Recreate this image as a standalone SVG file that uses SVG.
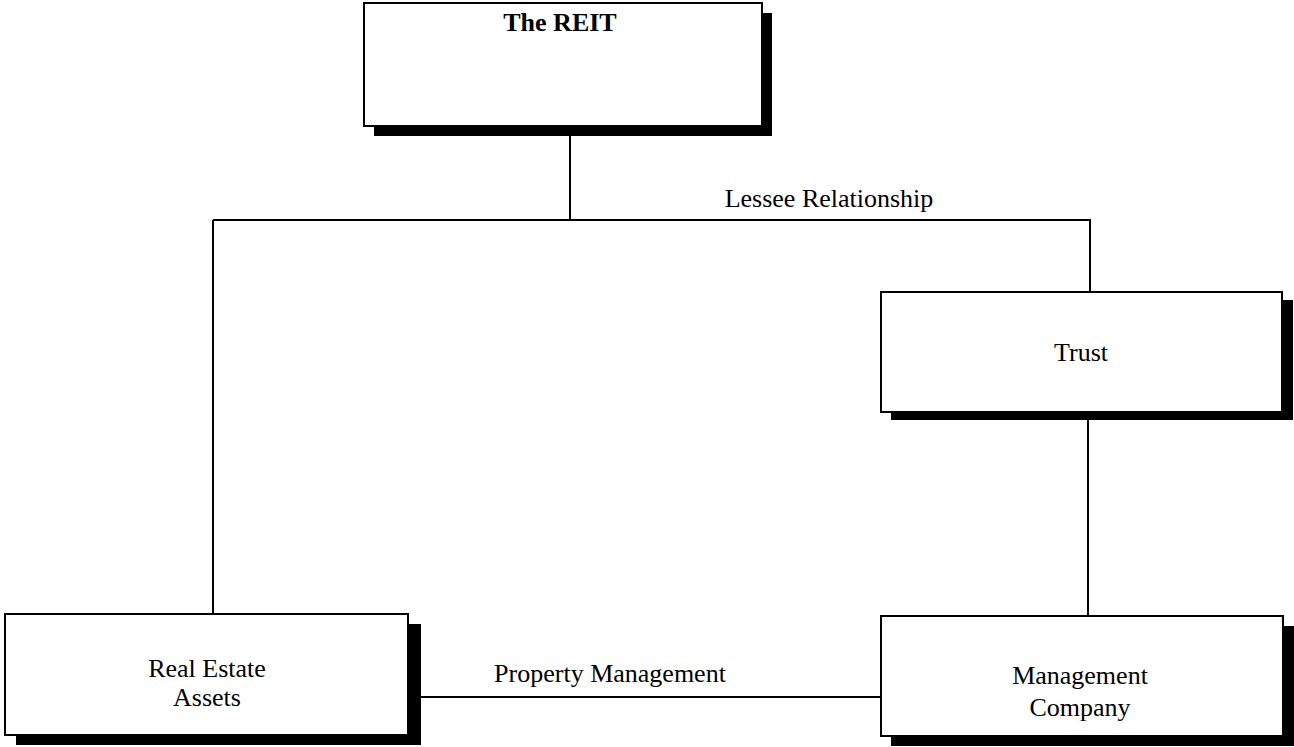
<svg xmlns="http://www.w3.org/2000/svg" width="1294" height="747" viewBox="0 0 1294 747">
  <style>
    .box { fill: #fff; stroke: #000; stroke-width: 2; }
    .shadow { fill: #000; }
    .lbl { font-family: "Liberation Serif", "Times New Roman", serif; font-size: 26px; fill: #000; text-anchor: middle; }
    .title { font-weight: bold; font-size: 26px; }
    .wire { fill: none; stroke: #000; stroke-width: 2; }
  </style>
  <rect width="1294" height="747" fill="#fff"/>

  <g id="connectors">
    <path class="wire" d="M570 136 V220"/>
    <path class="wire" d="M213 220 H1090 V291"/>
    <path class="wire" d="M213 220 V614"/>
    <path class="wire" d="M1088 420 V616"/>
    <path class="wire" d="M420 697 H881"/>
    <text class="lbl" x="829" y="207">Lessee Relationship</text>
    <text class="lbl" x="610" y="682">Property Management</text>
  </g>

  <g id="reit">
    <rect class="shadow" x="374" y="13" width="398" height="123"/>
    <rect class="box" x="364" y="3" width="398" height="123"/>
    <text class="lbl title" x="560" y="31">The REIT</text>
  </g>

  <g id="trust">
    <rect class="shadow" x="891" y="300" width="402" height="120"/>
    <rect class="box" x="881" y="292" width="401" height="120"/>
    <text class="lbl" x="1081" y="361">Trust</text>
  </g>

  <g id="real-estate-assets">
    <rect class="shadow" x="16" y="624" width="405" height="121"/>
    <rect class="box" x="5" y="614" width="403" height="121"/>
    <text class="lbl" x="207" y="677">Real Estate</text>
    <text class="lbl" x="207" y="706">Assets</text>
  </g>

  <g id="management-company">
    <rect class="shadow" x="891" y="626" width="403" height="120"/>
    <rect class="box" x="881" y="616" width="402" height="120"/>
    <text class="lbl" x="1080" y="684">Management</text>
    <text class="lbl" x="1080" y="716">Company</text>
  </g>
</svg>
